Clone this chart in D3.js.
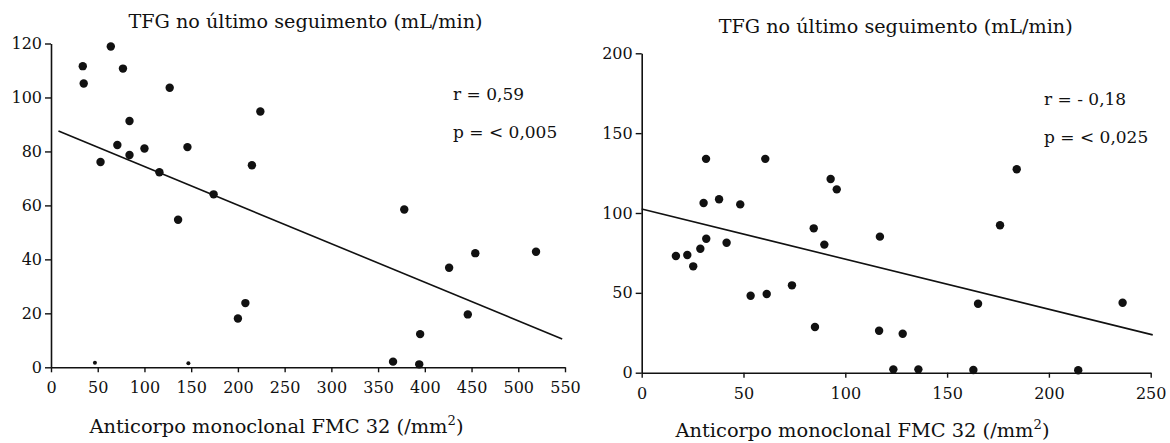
<!DOCTYPE html>
<html>
<head>
<meta charset="utf-8">
<script src="https://cdn.jsdelivr.net/npm/d3@7"></script>
<style>
  html, body { margin: 0; padding: 0; background: #fff; }
  svg { display: block; }
</style>
</head>
<body>
<svg id="chart" width="1170" height="443"></svg>
<script>
// Left panel: GFR at last follow-up vs FMC 32 count
const leftX = [34, 35, 64, 77, 127, 84, 71, 84, 100, 53, 146, 116, 224, 215, 174,
               136, 200, 208, 378, 454, 519, 426, 446, 395, 366, 394];
const leftY = [111.6, 105.2, 118.9, 110.7, 103.6, 91.3, 82.4, 78.7, 81.1, 76.1, 81.6, 72.3, 94.8, 74.9, 64.1,
               54.7, 18.1, 23.8, 58.5, 42.3, 42.8, 36.9, 19.6, 12.3, 2.1, 1.1];
// two faint near-zero observations drawn as small dots
const leftSmallX = [47, 147];
const leftSmallY = [1.7, 1.5];
const leftFit = { x: [8, 547], intercept: 88.7, slope: -0.143 };
const leftXTicks = [0, 50, 100, 150, 200, 250, 300, 350, 400, 450, 500, 550];
const leftYTicks = [0, 20, 40, 60, 80, 100, 120];
const leftStats = ["r = 0,59", "p = < 0,005"];

// Right panel
const rightX = [31.6, 60.7, 92.8, 95.8, 184.2,
                16.8, 22.4, 25.3, 28.8, 31.7, 30.4, 38, 41.7, 48.4, 53.5, 61.4, 73.8, 84.5, 89.7, 85.1,
                117, 116.6, 128.2, 176, 165.2, 236.2, 123.6, 135.9, 162.9, 214.4];
const rightY = [133.9, 133.9, 121.3, 114.8, 127.4,
                73.1, 73.7, 66.6, 77.6, 83.9, 106.3, 108.6, 81.4, 105.4, 48.2, 49.3, 54.7, 90.4, 80.2, 28.6,
                85.2, 26.3, 24.4, 92.3, 43.2, 43.8, 2.1, 2.1, 1.7, 1.5];
const rightFit = { x: [0, 251], intercept: 102.5, slope: -0.314 };
const rightXTicks = [0, 50, 100, 150, 200, 250];
const rightYTicks = [0, 50, 100, 150, 200];
const rightStats = ["r = - 0,18", "p = < 0,025"];

const titleText = "TFG no último seguimento (mL/min)";
const xTitleText = "Anticorpo monoclonal FMC 32 (/mm";

const FONT = "'DejaVu Serif', 'Liberation Serif', serif";
const ink = "#111";
const svg = d3.select("#chart");

function label(sel, size) {
  return sel.style("font-family", FONT).style("font-size", size + "px").style("fill", ink);
}

function panel(cfg) {
  const x = d3.scaleLinear().domain(cfg.xDomain).range(cfg.xRange);
  const y = d3.scaleLinear().domain(cfg.yDomain).range(cfg.yRange);
  const g = svg.append("g");

  const xAxis = d3.axisBottom(x).tickValues(cfg.xTicks).tickSize(5).tickPadding(9.5).tickSizeOuter(0);
  const yAxis = d3.axisLeft(y).tickValues(cfg.yTicks).tickSize(6).tickPadding(3).tickSizeOuter(0);

  const gx = g.append("g").attr("transform", `translate(0,${cfg.yRange[0]})`).call(xAxis);
  const gy = g.append("g").attr("transform", `translate(${cfg.xRange[0]},0)`).call(yAxis);
  [gx, gy].forEach(a => {
    a.select(".domain").attr("stroke", ink).attr("stroke-width", 1.6);
    a.selectAll(".tick line").attr("stroke", ink).attr("stroke-width", 1.4);
    label(a.selectAll(".tick text"), cfg.tickSize);
  });

  // regression line
  g.append("line")
    .attr("x1", x(cfg.fit.x[0])).attr("y1", y(cfg.fit.intercept + cfg.fit.slope * cfg.fit.x[0]))
    .attr("x2", x(cfg.fit.x[1])).attr("y2", y(cfg.fit.intercept + cfg.fit.slope * cfg.fit.x[1]))
    .attr("stroke", ink).attr("stroke-width", 1.6);

  // observations
  g.selectAll("circle.pt").data(d3.zip(cfg.px, cfg.py)).join("circle")
    .attr("class", "pt")
    .attr("cx", d => x(d[0])).attr("cy", d => y(d[1]))
    .attr("r", 4.2).attr("fill", ink);

  if (cfg.sx) {
    g.selectAll("circle.sm").data(d3.zip(cfg.sx, cfg.sy)).join("circle")
      .attr("class", "sm")
      .attr("cx", d => x(d[0])).attr("cy", d => y(d[1]))
      .attr("r", 2).attr("fill", ink);
  }

  // title
  label(g.append("text"), cfg.titleSize)
    .attr("x", cfg.titlePos[0]).attr("y", cfg.titlePos[1])
    .attr("text-anchor", "middle").text(titleText);

  // statistics
  cfg.stats.forEach((s, i) => {
    label(g.append("text"), cfg.statsSize)
      .attr("x", cfg.statsPos[0]).attr("y", cfg.statsPos[1] + i * 38).text(s);
  });

  // x axis title with superscript
  const xt = label(g.append("text"), cfg.xTitleSize)
    .attr("x", cfg.xTitlePos[0]).attr("y", cfg.xTitlePos[1])
    .attr("text-anchor", "middle");
  xt.append("tspan").text(xTitleText);
  xt.append("tspan").attr("dy", -8).style("font-size", (cfg.xTitleSize * 0.68) + "px").text("2");
  xt.append("tspan").attr("dy", 8).text(")");
}

panel({
  xDomain: [0, 550], xRange: [51, 565],
  yDomain: [0, 120], yRange: [367.3, 43.5],
  xTicks: leftXTicks, yTicks: leftYTicks,
  px: leftX, py: leftY, sx: leftSmallX, sy: leftSmallY,
  fit: leftFit, stats: leftStats,
  titlePos: [305.5, 28], statsPos: [453, 100], xTitlePos: [276.5, 433],
  titleSize: 19.2, xTitleSize: 19.4, statsSize: 17, tickSize: 16
});

panel({
  xDomain: [0, 250], xRange: [641.7, 1150.7],
  yDomain: [0, 200], yRange: [372.7, 53.3],
  xTicks: rightXTicks, yTicks: rightYTicks,
  px: rightX, py: rightY,
  fit: rightFit, stats: rightStats,
  titlePos: [895.7, 33], statsPos: [1044, 105], xTitlePos: [862.5, 437],
  titleSize: 19.2, xTitleSize: 19.4, statsSize: 17, tickSize: 16
});
</script>
</body>
</html>
